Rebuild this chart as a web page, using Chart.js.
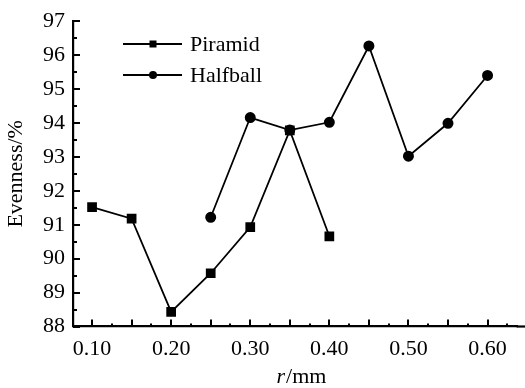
<!DOCTYPE html>
<html>
<head>
<meta charset="utf-8">
<script src="https://cdn.jsdelivr.net/npm/chart.js@4/dist/chart.umd.min.js"></script>
<style>
  html, body { margin: 0; padding: 0; background: #fff; }
  #wrap { width: 525px; height: 388px; position: relative; }
</style>
</head>
<body>
<div id="wrap"><canvas id="myChart"></canvas></div>
<script>
// r / mm
const piramidR = [0.10, 0.15, 0.20, 0.25, 0.30, 0.35, 0.40];
const piramidEven = [91.52, 91.18, 88.43, 89.57, 90.93, 93.78, 90.66];

const halfballR = [0.25, 0.30, 0.35, 0.40, 0.45, 0.50, 0.55, 0.60];
const halfballEven = [91.22, 94.16, 93.79, 94.02, 96.27, 93.02, 93.99, 95.40];

const xLabels = [0.10, 0.20, 0.30, 0.40, 0.50, 0.60];
const yLabels = [88, 89, 90, 91, 92, 93, 94, 95, 96, 97];

const seriesNames = ['Piramid', 'Halfball'];

const FONT = '"Liberation Serif", "Times New Roman", serif';
const FS = 22;

const toPts = (xs, ys) => xs.map((x, i) => ({ x: x, y: ys[i] }));

// inward ticks, x title (italic r) and legend drawn on the canvas
const extras = {
    id: 'extras',
    afterDraw(chart) {
        const ctx = chart.ctx;
        const xs = chart.scales.x, ys = chart.scales.y;
        const area = chart.chartArea;
        ctx.save();
        ctx.strokeStyle = '#000';

        // bottom axis runs on to the right edge
        ctx.lineWidth = 2.2;
        ctx.beginPath();
        ctx.moveTo(area.right - 1, area.bottom);
        ctx.lineTo(chart.width, area.bottom);
        ctx.stroke();

        ctx.lineWidth = 2;
        // x ticks every 0.025, longer every 0.05
        for (let k = 4; k <= 26; k++) {
            const v = k * 0.025;
            const px = Math.round(xs.getPixelForValue(v));
            if (px > chart.width) break;
            const len = (k % 2 === 0) ? 7 : 3;
            ctx.beginPath();
            ctx.moveTo(px, area.bottom);
            ctx.lineTo(px, area.bottom - len);
            ctx.stroke();
        }
        // y ticks every 0.5, longer every 1
        for (let k = 176; k <= 194; k++) {
            const v = k * 0.5;
            const py = Math.round(ys.getPixelForValue(v));
            const len = (k % 2 === 0) ? 7 : 4;
            ctx.beginPath();
            ctx.moveTo(area.left, py);
            ctx.lineTo(area.left + len, py);
            ctx.stroke();
        }

        // x axis title: italic r + /mm
        ctx.fillStyle = '#000';
        ctx.textBaseline = 'middle';
        ctx.textAlign = 'left';
        const italic = 'italic ' + FS + 'px ' + FONT;
        const normal = FS + 'px ' + FONT;
        ctx.font = italic;
        const w1 = ctx.measureText('r').width;
        ctx.font = normal;
        const w2 = ctx.measureText('/mm').width;
        const cx = 301;
        const x0 = cx - (w1 + w2) / 2;
        ctx.font = italic;
        ctx.fillText('r', x0, 377);
        ctx.font = normal;
        ctx.fillText('/mm', x0 + w1 + 1, 377);

        // legend
        const rows = [44, 75];
        ctx.font = normal;
        chart.data.datasets.forEach((ds, i) => {
            const y = rows[i];
            ctx.lineWidth = 1.8;
            ctx.beginPath();
            ctx.moveTo(123, y);
            ctx.lineTo(182, y);
            ctx.stroke();
            if (ds.pointStyle === 'rect') {
                ctx.fillRect(149.5, y - 3.5, 7, 7);
            } else {
                ctx.beginPath();
                ctx.arc(153, y, 4, 0, Math.PI * 2);
                ctx.fill();
            }
            ctx.fillText(ds.label, 190, y + 1);
        });
        ctx.restore();
    }
};

const config = {
    type: 'scatter',
    data: {
        datasets: [
            {
                label: seriesNames[0],
                data: toPts(piramidR, piramidEven),
                showLine: true,
                borderColor: '#000',
                backgroundColor: '#000',
                borderWidth: 1.8,
                pointStyle: 'rect',
                pointRadius: 5.6,
                pointHoverRadius: 5.6
            },
            {
                label: seriesNames[1],
                data: toPts(halfballR, halfballEven),
                showLine: true,
                borderColor: '#000',
                backgroundColor: '#000',
                borderWidth: 1.8,
                pointStyle: 'circle',
                pointRadius: 4.6,
                pointHoverRadius: 4.6
            }
        ]
    },
    options: {
        responsive: true,
        maintainAspectRatio: false,
        animation: false,
        layout: { padding: { top: 15, right: 0, left: 0, bottom: 0 } },
        plugins: {
            legend: { display: false },
            tooltip: { enabled: false }
        },
        scales: {
            x: {
                type: 'linear',
                min: 0.0759,
                max: 0.638,
                afterBuildTicks: (s) => { s.ticks = xLabels.map(v => ({ value: v })); },
                afterFit: (s) => { s.height = 61.5; },
                grid: { display: false, drawTicks: false },
                border: { display: true, color: '#000', width: 2.2 },
                ticks: {
                    color: '#000',
                    padding: 10,
                    maxRotation: 0,
                    autoSkip: false,
                    font: { family: FONT, size: FS },
                    callback: (v) => Number(v).toFixed(2)
                },
                title: { display: false }
            },
            y: {
                type: 'linear',
                min: 88,
                max: 97,
                afterBuildTicks: (s) => { s.ticks = yLabels.map(v => ({ value: v })); },
                afterFit: (s) => { s.width = 73; },
                grid: { display: false, drawTicks: false },
                border: { display: true, color: '#000', width: 2.2 },
                ticks: {
                    color: '#000',
                    padding: 8,
                    autoSkip: false,
                    font: { family: FONT, size: FS }
                },
                title: {
                    display: true,
                    text: 'Evenness/%',
                    color: '#000',
                    padding: { top: 3, bottom: 0 },
                    font: { family: FONT, size: FS }
                }
            }
        }
    },
    plugins: [extras]
};

const chart = new Chart(document.getElementById('myChart'), config);
</script>
</body>
</html>
